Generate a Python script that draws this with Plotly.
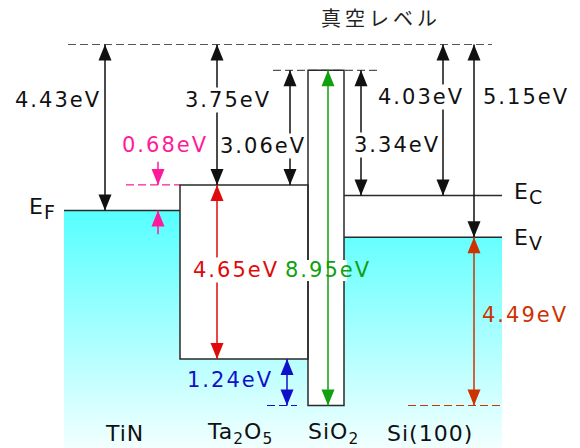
import plotly.graph_objects as go

# Band energies in eV, measured downward from the vacuum level
tin_work_function = 4.43
ta2o5_affinity = 3.75
ta2o5_gap = 4.65
sio2_gap = 8.95
si_affinity = 4.03
si_ionization = 5.15
barrier_tin_ta2o5 = 0.68
cb_offset_ta2o5_sio2 = 3.06
cb_offset_sio2_si = 3.34
vb_offset_ta2o5_sio2 = 1.24
vb_offset_si_sio2 = 4.49

material_labels = ["TiN", "Ta<sub>2</sub>O<sub>5</sub>", "SiO<sub>2</sub>", "Si(100)"]
level_names = ["F", "C", "V"]
vacuum_label = "真空レベル"

# Derived band edges
vacuum = 0.0
sio2_cb = ta2o5_affinity - cb_offset_ta2o5_sio2
sio2_vb = sio2_cb + sio2_gap
ta2o5_vb = ta2o5_affinity + ta2o5_gap

# ---- page geometry (x axis runs in pixels, y axis in eV) ----
W, H = 580, 448
Y0_PX, PX_PER_EV = 44.5, 37.45
Y_TOP = -Y0_PX / PX_PER_EV
Y_BOT = (H - Y0_PX) / PX_PER_EV

X_TIN, X_TA, X_SIO_L, X_SIO_R, X_SI_R = 64, 180, 308, 344, 502

BLACK = "#111111"
EDGE = "#2a2a2a"
GRAY = "#555555"
PINK = "#ff1a9c"
RED = "#e00a0a"
GREEN = "#10a010"
BLUE = "#1010cc"
ORANGE = "#cc3300"

VAL_FONT = "DejaVu Sans"


def px_to_e(py):
    return (py - Y0_PX) / PX_PER_EV


fig = go.Figure()

# Occupied-state shading (metal below E_F, silicon below E_V, oxides below their gaps)
fx = [X_TIN, X_TA, X_TA, X_SIO_L, X_SIO_L, X_SIO_R, X_SIO_R, X_SI_R, X_SI_R, X_TIN, X_TIN]
fy = [tin_work_function, tin_work_function, ta2o5_vb, ta2o5_vb, sio2_vb, sio2_vb,
      si_ionization, si_ionization, Y_BOT, Y_BOT, tin_work_function]
fig.add_trace(go.Scatter(
    x=fx, y=fy, mode="lines", line=dict(width=0), fill="toself",
    fillgradient=dict(type="vertical",
                      colorscale=[[0, "#55ffff"], [1, "#f2ffff"]],
                      start=tin_work_function, stop=Y_BOT),
    hoverinfo="skip", showlegend=False))

shapes = []


def hline(y, x0, x1, color, width=1.5, dash=None):
    shapes.append(dict(type="line", xref="x", yref="y", x0=x0, x1=x1, y0=y, y1=y,
                       line=dict(color=color, width=width, dash=dash)))


def vline(x, y0, y1, color, width=1.5):
    shapes.append(dict(type="line", xref="x", yref="y", x0=x, x1=x, y0=y0, y1=y1,
                       line=dict(color=color, width=width)))


def head(x, y, color, pointing):
    # triangular arrow head, tip on (x, y), sized in pixels
    s = 16 if pointing == "down" else -16
    shapes.append(dict(type="path", xref="x", yref="y",
                       xsizemode="pixel", ysizemode="pixel", xanchor=x, yanchor=y,
                       path=f"M0,0 L-6.5,{s} L6.5,{s} Z",
                       fillcolor=color, line=dict(width=0)))


def double_arrow(x, y_top, y_bot, color):
    vline(x, y_top, y_bot, color)
    head(x, y_top, color, "up")
    head(x, y_bot, color, "down")


# Dashed reference levels
hline(vacuum, 68, 492, GRAY, 1.2, "8px,4px")
hline(sio2_cb, 273, 380, GRAY, 1.2, "8px,4px")
hline(ta2o5_affinity, 126, X_TA, PINK, 1.2, "8px,4px")
hline(sio2_vb, 267, 297, BLUE, 1.2, "8px,4px")
hline(sio2_vb, 408, 500, ORANGE, 1.2, "8px,4px")

# Band edges
hline(tin_work_function, X_TIN, X_TA, EDGE)
shapes.append(dict(type="rect", xref="x", yref="y", x0=X_TA, x1=X_SIO_L,
                   y0=ta2o5_affinity, y1=ta2o5_vb, line=dict(color=EDGE, width=1.5)))
shapes.append(dict(type="rect", xref="x", yref="y", x0=X_SIO_L, x1=X_SIO_R,
                   y0=sio2_cb, y1=sio2_vb, line=dict(color=EDGE, width=1.5)))
hline(si_affinity, X_SIO_R, X_SI_R, EDGE)
hline(si_ionization, X_SIO_R, X_SI_R, EDGE)

# white patch behind the SiO2 gap label
shapes.append(dict(type="rect", xref="x", yref="y", x0=283, x1=347,
                   y0=px_to_e(260), y1=px_to_e(281), fillcolor="white",
                   line=dict(width=0)))

# Energy arrows
double_arrow(105, vacuum, tin_work_function, BLACK)
double_arrow(217, vacuum, ta2o5_affinity, BLACK)
double_arrow(290, sio2_cb, sio2_cb + cb_offset_ta2o5_sio2, BLACK)
double_arrow(361, sio2_cb, sio2_cb + cb_offset_sio2_si, BLACK)
double_arrow(443, vacuum, si_affinity, BLACK)
double_arrow(474, vacuum, si_ionization, BLACK)
double_arrow(217, ta2o5_affinity, ta2o5_affinity + ta2o5_gap, RED)
double_arrow(328, sio2_cb, sio2_cb + sio2_gap, GREEN)
double_arrow(287, ta2o5_vb, ta2o5_vb + vb_offset_ta2o5_sio2, BLUE)
double_arrow(474, si_ionization, si_ionization + vb_offset_si_sio2, ORANGE)

# Schottky barrier marks: arrows pointing in from outside the gap
vline(158, ta2o5_affinity - 0.62, ta2o5_affinity, PINK)
head(158, ta2o5_affinity, PINK, "down")
vline(158, tin_work_function, tin_work_function + 0.64, PINK)
head(158, tin_work_function, PINK, "up")

annotations = []


def label(text, xc, ypx, color=BLACK, size=21, bg=None, family=VAL_FONT,
          spacing=2):
    annotations.append(dict(
        text=f'<span style="letter-spacing:{spacing}px;font-size:{size}px">{text}</span>',
        xref="x", yref="paper", x=xc, y=1 - ypx / H,
        xanchor="center", yanchor="middle", showarrow=False,
        font=dict(family=family, size=size, color=color),
        bgcolor=bg if bg else "rgba(0,0,0,0)", borderpad=0))


def ev(v):
    return f"{v:.2f}eV"


def level(name):
    return f'E<sub><span style="font-size:19px">{name}</span></sub>'


label(vacuum_label, 381, 17, "#222222", 20, family="Noto Sans CJK JP", spacing=4)
label(ev(tin_work_function), 58, 100)
label(ev(ta2o5_affinity), 228, 100, bg="white")
label(ev(cb_offset_ta2o5_sio2), 263, 146, bg="white")
label(ev(barrier_tin_ta2o5), 165, 145, PINK)
label(ev(cb_offset_sio2_si), 397, 145, bg="white")
label(ev(si_affinity), 421, 97, bg="white")
label(ev(si_ionization), 526, 97)
label(ev(ta2o5_gap), 236, 270, RED, bg="white")
label(ev(sio2_gap), 328, 270, GREEN)
label(ev(vb_offset_ta2o5_sio2), 230, 380, BLUE)
label(ev(vb_offset_si_sio2), 525, 315, ORANGE)

# Level names
label(level(level_names[0]), 42, 208, size=22, spacing=1)
label(level(level_names[1]), 528, 193, size=22, spacing=1)
label(level(level_names[2]), 528, 239, size=22, spacing=1)

# Material names
for name, xc in zip(material_labels, [124, 240, 333, 430]):
    label(name, xc, 433, size=22, spacing=1)

fig.update_layout(
    width=W, height=H, margin=dict(l=0, r=0, t=0, b=0),
    paper_bgcolor="white", plot_bgcolor="white",
    xaxis=dict(range=[0, W], visible=False, fixedrange=True),
    yaxis=dict(range=[Y_BOT, Y_TOP], visible=False, fixedrange=True),
    shapes=shapes, annotations=annotations, showlegend=False)

fig.write_html("out.html")
